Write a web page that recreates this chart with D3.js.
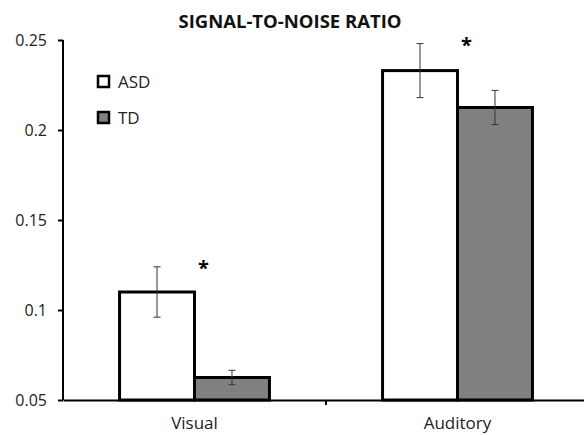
<!DOCTYPE html>
<html>
<head>
<meta charset="utf-8">
<script src="https://cdn.jsdelivr.net/npm/d3@7"></script>
<style>
  body { margin: 0; background: #fff; }
  text { font-family: "Open Sans", "Noto Sans", sans-serif; }
</style>
</head>
<body>
<div id="chart"></div>
<script>
const categories = ['Visual', 'Auditory'];
const groups = ['ASD', 'TD'];
const asdValues = [0.110, 0.233];
const tdValues = [0.0625, 0.2125];
const asdErrors = [0.014, 0.015];
const tdErrors = [0.004, 0.0095];
const yTicks = [0.05, 0.1, 0.15, 0.2, 0.25];
const significant = [true, true];

const W = 584, H = 435;
const margin = { top: 40, right: -5, bottom: 35, left: 63 };
const width = W - margin.left - margin.right;
const height = H - margin.top - margin.bottom;

const groupColor = { ASD: '#ffffff', TD: '#808080' };

const svg = d3.select('#chart').append('svg')
    .attr('width', W)
    .attr('height', H);

const g = svg.append('g')
    .attr('transform', `translate(${margin.left},${margin.top})`);

const x = d3.scaleBand().domain(categories).range([0, width]).paddingInner(0).paddingOuter(0);
const xSub = d3.scaleBand().domain(groups).range([x.bandwidth() * 0.215, x.bandwidth() * 0.785]);
const y = d3.scaleLinear().domain([0.05, 0.25]).range([height, 0]);

// title
svg.append('text')
    .attr('x', 290)
    .attr('y', 28)
    .attr('text-anchor', 'middle')
    .attr('font-size', '18.5px')
    .attr('font-weight', 'bold')
    .attr('fill', '#111')
    .text('SIGNAL-TO-NOISE RATIO');

// y axis
const yAxis = g.append('g')
    .call(d3.axisLeft(y).tickValues(yTicks).tickFormat(d3.format('')).tickSize(5).tickPadding(11));
yAxis.select('.domain').attr('stroke-width', 2).attr('d', `M0,0V${height}`);
yAxis.selectAll('.tick line').attr('stroke-width', 2);
yAxis.selectAll('text').attr('font-size', '16px').attr('fill', '#222');

// data table
const data = categories.map((c, i) => ({
    category: c,
    bars: [
        { group: 'ASD', value: asdValues[i], err: asdErrors[i] },
        { group: 'TD', value: tdValues[i], err: tdErrors[i] }
    ],
    sig: significant[i]
}));

const catG = g.selectAll('.cat')
    .data(data)
    .enter().append('g')
    .attr('class', 'cat')
    .attr('transform', d => `translate(${x(d.category)},0)`);

catG.selectAll('rect')
    .data(d => d.bars)
    .enter().append('rect')
    .attr('x', d => xSub(d.group))
    .attr('y', d => y(d.value))
    .attr('width', xSub.bandwidth())
    .attr('height', d => height - y(d.value))
    .attr('fill', d => groupColor[d.group])
    .attr('stroke', '#000')
    .attr('stroke-width', 3);

// error bars
const errG = catG.selectAll('.err')
    .data(d => d.bars)
    .enter().append('g')
    .attr('class', 'err')
    .attr('stroke', '#333')
    .attr('stroke-width', 1);

errG.append('line')
    .attr('x1', d => xSub(d.group) + xSub.bandwidth() / 2)
    .attr('x2', d => xSub(d.group) + xSub.bandwidth() / 2)
    .attr('y1', d => y(d.value + d.err))
    .attr('y2', d => y(d.value - d.err));
[1, -1].forEach(s => {
    errG.append('line')
        .attr('x1', d => xSub(d.group) + xSub.bandwidth() / 2 - 3.5)
        .attr('x2', d => xSub(d.group) + xSub.bandwidth() / 2 + 3.5)
        .attr('y1', d => y(d.value + s * d.err))
        .attr('y2', d => y(d.value + s * d.err));
});

// significance asterisks
catG.filter(d => d.sig).append('text')
    .attr('x', xSub('TD') + 9)
    .attr('y', d => y(d3.max(d.bars, b => b.value + b.err)) + 8)
    .attr('text-anchor', 'middle')
    .attr('font-size', '20px')
    .attr('font-weight', 'bold')
    .text('*');

// x axis
const xAxis = g.append('g')
    .attr('transform', `translate(0,${height})`)
    .call(d3.axisBottom(x).tickSize(0).tickPadding(17));
xAxis.select('.domain').attr('stroke-width', 2);
xAxis.selectAll('text').attr('font-size', '17px').attr('fill', '#222');
xAxis.append('line')
    .attr('x1', x.bandwidth()).attr('x2', x.bandwidth())
    .attr('y1', 0).attr('y2', 5)
    .attr('stroke', '#000').attr('stroke-width', 2);

// legend
const legend = svg.append('g').attr('transform', 'translate(98,76)');
const li = legend.selectAll('g')
    .data(groups)
    .enter().append('g')
    .attr('transform', (d, i) => `translate(0,${i * 36})`);
li.append('rect')
    .attr('width', 11).attr('height', 11)
    .attr('fill', d => groupColor[d])
    .attr('stroke', '#000').attr('stroke-width', 2.5);
li.append('text')
    .attr('x', 20).attr('y', 12)
    .attr('font-size', '17px')
    .attr('fill', '#222')
    .text(d => d);
</script>
</body>
</html>
